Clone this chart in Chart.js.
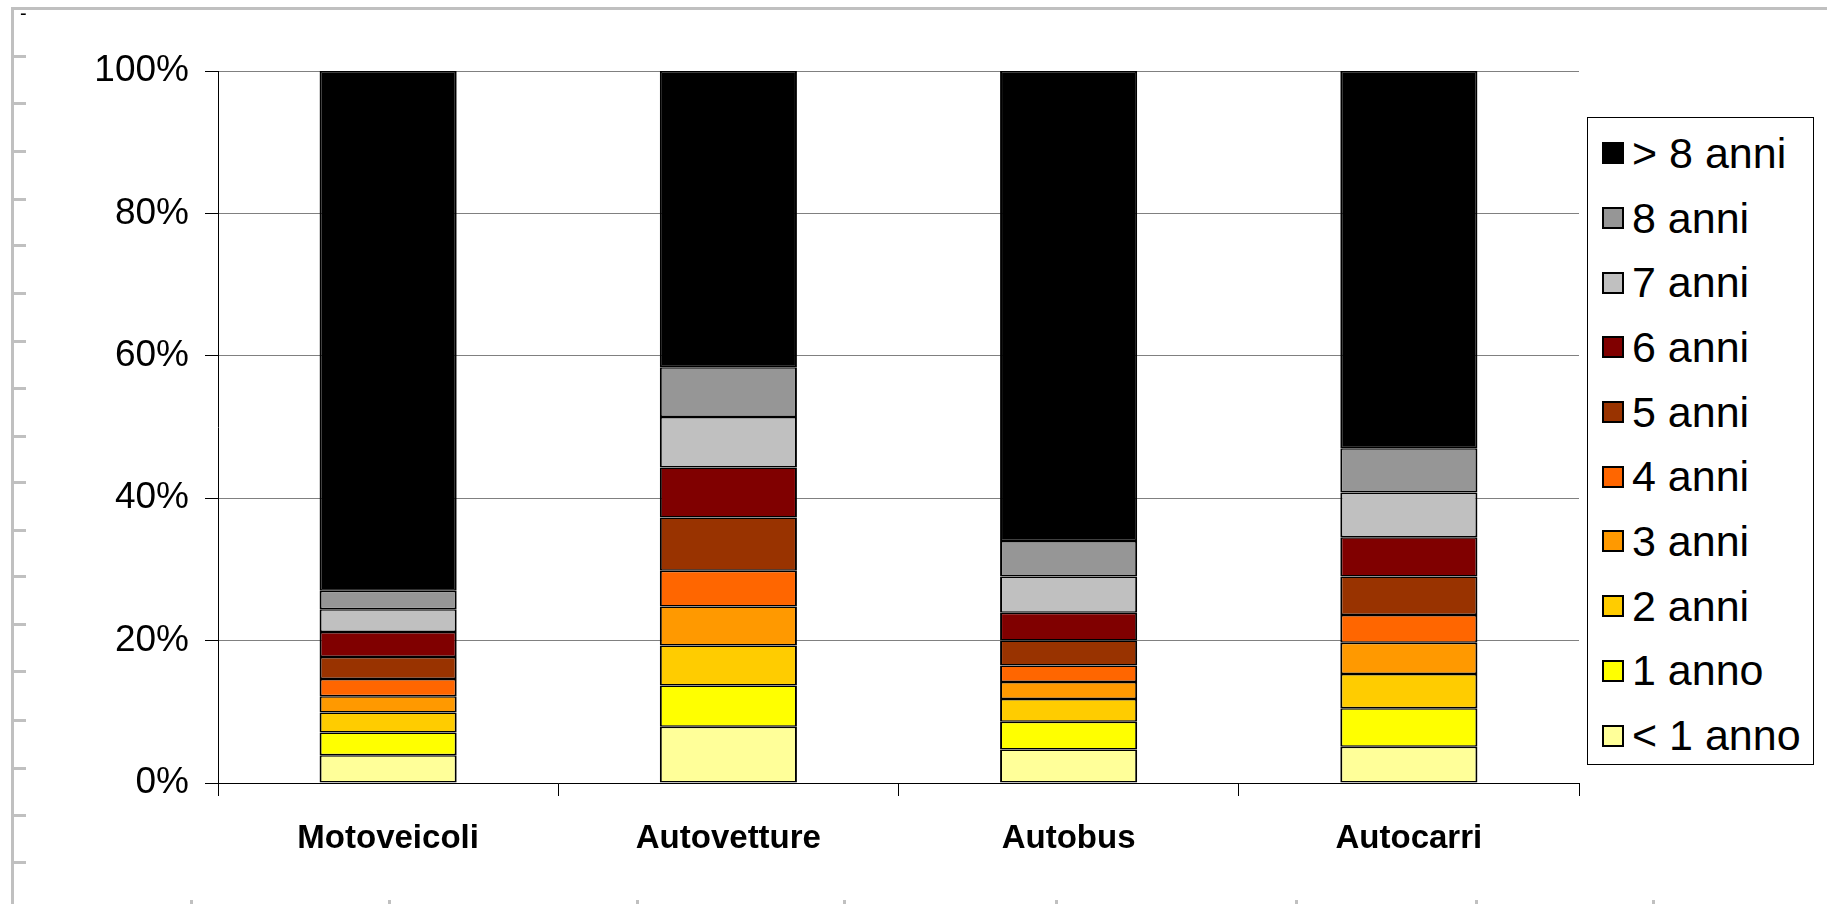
<!DOCTYPE html>
<html>
<head>
<meta charset="utf-8">
<title>Età dei veicoli</title>
<script src="https://cdn.jsdelivr.net/npm/chart.js@4.4.0/dist/chart.umd.min.js"></script>
<style>
    body { margin: 0; background: #fff; }
    #wrap { position: relative; width: 1827px; height: 904px; }
    #dash { position: absolute; left: 20px; top: 2px; font: 20px 'Liberation Sans', Arial, sans-serif; }
    #legend {
        position: absolute; left: 1587px; top: 117px; width: 225px; height: 646px;
        border: 1px solid #000; background: #fff;
        font-family: 'Liberation Sans', Arial, sans-serif; font-size: 43px; color: #000;
    }
    #legend ul { list-style: none; margin: 0; padding: 3px 0 0 14px; }
    #legend li { height: 64.7px; display: flex; align-items: center; white-space: nowrap; }
    #legend .box { width: 18px; height: 18px; border: 2px solid #000; margin-right: 8px; flex: none; }
</style>
</head>
<body>
<div id="wrap">
    <canvas id="ageChart" width="1827" height="904"></canvas>
    <div id="dash">-</div>
    <div id="legend"></div>
</div>
<script>
// Vehicle categories
const categories = ['Motoveicoli', 'Autovetture', 'Autobus', 'Autocarri'];

// Share of each age class per category (%)
const under1Year = [3.9, 7.9, 4.7, 5.1];
const age1Year   = [3.2, 5.8, 3.9, 5.4];
const age2Years  = [2.8, 5.6, 3.2, 4.8];
const age3Years  = [2.3, 5.5, 2.4, 4.4];
const age4Years  = [2.4, 5.0, 2.3, 3.9];
const age5Years  = [3.1, 7.5, 3.5, 5.4];
const age6Years  = [3.5, 7.0, 3.9, 5.5];
const age7Years  = [3.2, 7.1, 5.1, 6.3];
const age8Years  = [2.6, 7.0, 5.0, 6.2];
const over8Years = [73.0, 41.6, 66.0, 53.0];

// Y axis ticks
const yTicks = [0, 20, 40, 60, 80, 100];

const seriesLabels = ['< 1 anno', '1 anno', '2 anni', '3 anni', '4 anni', '5 anni', '6 anni', '7 anni', '8 anni', '> 8 anni'];
const seriesData = [under1Year, age1Year, age2Years, age3Years, age4Years, age5Years, age6Years, age7Years, age8Years, over8Years];
const seriesColors = ['#FFFF99', '#FFFF00', '#FFCC00', '#FF9900', '#FF6600', '#993300', '#800000', '#C0C0C0', '#969696', '#000000'];

const FONT = "'Liberation Sans', Arial, sans-serif";

// Gray sheet frame with ruler marks around the chart
const framePlugin = {
    id: 'frame',
    beforeDraw(chart) {
        const ctx = chart.ctx;
        const leftMarks = [56, 103, 151, 199, 245, 293, 341, 388, 436, 482, 530, 576, 624, 671, 720, 768, 815, 862];
        const bottomMarks = [191, 389, 637, 844, 1056, 1296, 1476, 1653];
        ctx.save();
        ctx.fillStyle = '#c0c0c0';
        ctx.fillRect(11, 7, 1816, 3);
        ctx.fillRect(11, 7, 3, 897);
        leftMarks.forEach(y => ctx.fillRect(13, y - 1, 13, 3));
        bottomMarks.forEach(x => ctx.fillRect(x - 1, 900, 3, 4));
        ctx.restore();
    }
};

const datasets = seriesLabels.map((label, i) => ({
    label: label,
    data: seriesData[i],
    backgroundColor: seriesColors[i],
    borderColor: '#000',
    borderWidth: { top: 1.5, bottom: 1.5, left: 2, right: 2 },
    borderSkipped: false,
    categoryPercentage: 1,
    barPercentage: 0.403
}));

const chart = new Chart(document.getElementById('ageChart'), {
    type: 'bar',
    data: { labels: categories, datasets: datasets },
    options: {
        responsive: false,
        animation: false,
        layout: { padding: { top: 71, right: 248, bottom: 0, left: 0 } },
        plugins: {
            legend: { display: false },
            tooltip: { enabled: false }
        },
        scales: {
            x: {
                stacked: true,
                afterFit: scale => { scale.height = 121; },
                grid: { drawOnChartArea: false, drawTicks: true, tickLength: 13, tickColor: '#000', tickWidth: 1 },
                border: { color: '#000', width: 1 },
                ticks: { color: '#000', padding: 23, font: { family: FONT, size: 33, weight: 'bold' } }
            },
            y: {
                stacked: true,
                min: 0,
                max: 100,
                afterFit: scale => { scale.width = 218; },
                afterBuildTicks: scale => { scale.ticks = yTicks.map(v => ({ value: v })); },
                grid: { color: '#808080', lineWidth: 1, tickLength: 13, tickColor: '#000' },
                border: { color: '#000', width: 1 },
                ticks: {
                    color: '#000',
                    padding: 16,
                    font: { family: FONT, size: 37 },
                    callback: value => value + '%'
                }
            }
        }
    },
    plugins: [framePlugin]
});

// Legend box, oldest class on top
const list = document.createElement('ul');
chart.data.datasets.slice().reverse().forEach(ds => {
    const item = document.createElement('li');
    const box = document.createElement('span');
    box.className = 'box';
    box.style.background = ds.backgroundColor;
    item.appendChild(box);
    item.appendChild(document.createTextNode(ds.label));
    list.appendChild(item);
});
document.getElementById('legend').appendChild(list);
</script>
</body>
</html>
